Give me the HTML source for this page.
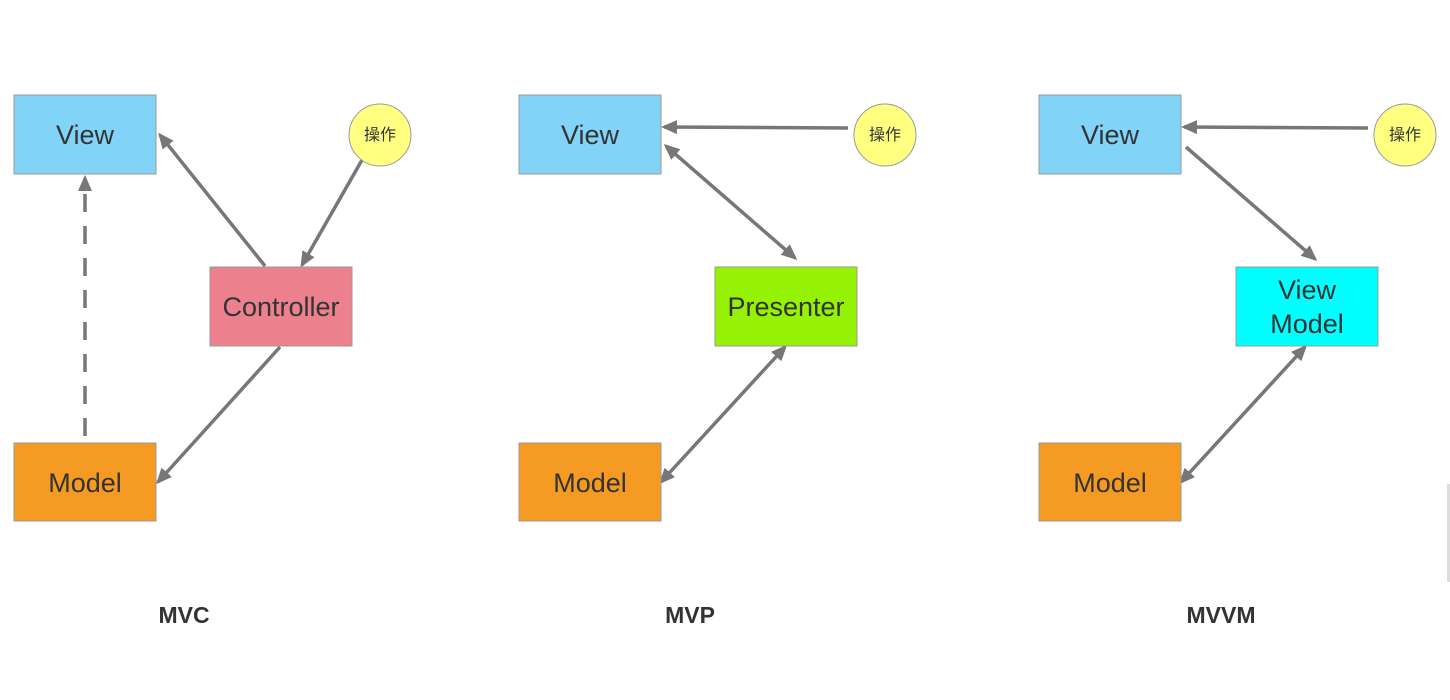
<!DOCTYPE html>
<html><head><meta charset="utf-8"><style>
html,body{margin:0;padding:0;background:#fff;width:1450px;height:700px;overflow:hidden}
</style></head><body>
<svg width="1450" height="700" xmlns="http://www.w3.org/2000/svg" font-family="Liberation Sans, Noto Sans CJK SC, sans-serif">
<defs>
<marker id="a" markerWidth="16" markerHeight="16" refX="13" refY="8" orient="auto" markerUnits="userSpaceOnUse" viewBox="0 0 16 16">
<path d="M0,1 L16,8 L0,15 Z" fill="#777"/></marker>
<marker id="s" markerWidth="16" markerHeight="16" refX="3" refY="8" orient="auto" markerUnits="userSpaceOnUse" viewBox="0 0 16 16">
<path d="M16,1 L0,8 L16,15 Z" fill="#777"/></marker>
</defs>
<g stroke="#777" stroke-width="3.5" fill="none">
<!-- MVC -->
<line x1="85" y1="436" x2="85" y2="178" stroke-dasharray="18,14" marker-end="url(#a)"/>
<line x1="265" y1="266" x2="160" y2="135" marker-end="url(#a)"/>
<line x1="362" y1="160" x2="302" y2="265" marker-end="url(#a)"/>
<line x1="280" y1="347" x2="158" y2="482" marker-end="url(#a)"/>
<!-- MVP -->
<line x1="848" y1="128" x2="664" y2="127" marker-end="url(#a)"/>
<line x1="666" y1="146" x2="795" y2="258" marker-start="url(#s)" marker-end="url(#a)"/>
<line x1="661" y1="482" x2="785" y2="347" marker-start="url(#s)" marker-end="url(#a)"/>
<!-- MVVM -->
<line x1="1368" y1="128" x2="1184" y2="127" marker-end="url(#a)"/>
<line x1="1186" y1="147" x2="1315" y2="259" marker-end="url(#a)"/>
<line x1="1181" y1="482" x2="1305" y2="347" marker-start="url(#s)" marker-end="url(#a)"/>
</g>
<g stroke="#999" stroke-width="1">
<rect x="14" y="95" width="142" height="79" fill="#81d3f8"/>
<rect x="210" y="267" width="142" height="79" fill="#ec808d"/>
<rect x="14" y="443" width="142" height="78" fill="#f59a23"/>
<circle cx="380" cy="135" r="31" fill="#ffff80"/>
<rect x="519" y="95" width="142" height="79" fill="#81d3f8"/>
<rect x="715" y="267" width="142" height="79" fill="#95f204"/>
<rect x="519" y="443" width="142" height="78" fill="#f59a23"/>
<circle cx="885" cy="135" r="31" fill="#ffff80"/>
<rect x="1039" y="95" width="142" height="79" fill="#81d3f8"/>
<rect x="1236" y="267" width="142" height="79" fill="#00ffff"/>
<rect x="1039" y="443" width="142" height="78" fill="#f59a23"/>
<circle cx="1405" cy="135" r="31" fill="#ffff80"/>
</g>
<g fill="#333" font-size="27" text-anchor="middle">
<text x="85" y="144">View</text>
<text x="281" y="316">Controller</text>
<text x="85" y="492">Model</text>
<text x="590" y="144">View</text>
<text x="786" y="316">Presenter</text>
<text x="590" y="492">Model</text>
<text x="1110" y="144">View</text>
<text x="1307" y="299">View</text>
<text x="1307" y="333">Model</text>
<text x="1110" y="492">Model</text>
</g>
<g fill="#333" font-size="16" text-anchor="middle">
<text x="380" y="140">操作</text>
<text x="885" y="140">操作</text>
<text x="1405" y="140">操作</text>
</g>
<g fill="#333" font-size="23" font-weight="bold" text-anchor="middle">
<text x="184" y="623">MVC</text>
<text x="690" y="623">MVP</text>
<text x="1221" y="623">MVVM</text>
</g>
<rect x="1447" y="484" width="3" height="98" fill="#ddd"/>
</svg>
</body></html>
